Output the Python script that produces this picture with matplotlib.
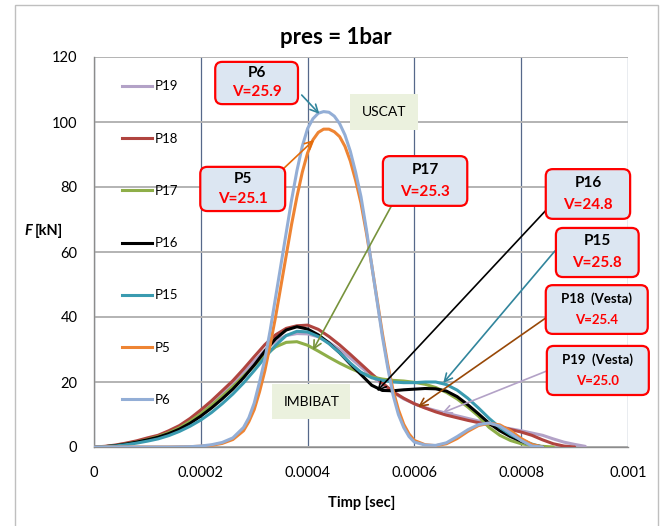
import numpy as np
import matplotlib.pyplot as plt
from matplotlib.patches import FancyBboxPatch, Rectangle
from matplotlib.transforms import IdentityTransform
from matplotlib.lines import Line2D

plt.rcParams['font.family'] = ['Lato', 'DejaVu Sans']

# time axis in microseconds (sampled every 20 us)
t_us = [0, 20, 40, 60, 80, 100, 120, 140, 160, 180, 200, 220, 240, 260, 280,
        300, 320, 340, 360, 380, 400, 420, 440, 460, 480, 500, 520, 540, 560,
        580, 600, 620, 640, 660, 680, 700, 720, 740, 760, 780, 800, 820, 840,
        860, 880, 900, 920]
# the two sharp curves (P5, P6) are read every 10 us around the peak
t_us_fine = [0, 20, 40, 60, 80, 100, 120, 140, 160, 180, 200, 220, 240, 260,
             280, 290, 300, 310, 320, 330, 340, 350, 360, 370, 380, 390, 400,
             410, 420, 430, 440, 450, 460, 470, 480, 490, 500, 510, 520, 530,
             540, 550, 560, 570, 580, 590, 600, 620, 640, 660, 680, 700, 720,
             740, 760, 780, 800, 820, 840]

# force [kN]
p19 = [0, 0.1, 0.5, 1.1, 1.7, 2.5, 3.3, 4.6, 6.1, 8.1, 10.6, 13.3, 16.3, 19.4,
       22.8, 26.4, 29.8, 32.6, 34.3, 34.9, 34.8, 33.9, 32.2, 30.0, 27.4, 24.6,
       21.8, 19.2, 16.8, 14.8, 13.3, 12.1, 11.2, 10.4, 9.6, 8.8, 8.0, 7.2, 6.2,
       5.6, 5.0, 4.3, 3.6, 2.5, 1.5, 0.8, 0.2]
p18 = [0, 0.2, 0.6, 1.2, 1.9, 2.8, 3.6, 5.0, 6.6, 8.8, 11.4, 14.2, 17.3, 20.4,
       24.0, 27.8, 31.5, 34.5, 36.5, 37.3, 37.5, 36.2, 34.0, 31.4, 28.5, 25.5,
       22.5, 19.7, 17.0, 15.0, 13.3, 12.0, 10.8, 9.8, 9.0, 8.2, 7.5, 6.9, 6.2,
       5.4, 4.6, 3.6, 2.2, 1.0, 0.3, 0]
p17 = [0, 0.1, 0.4, 0.9, 1.5, 2.3, 3.2, 4.4, 5.9, 7.9, 10.2, 12.8, 15.6, 18.6,
       21.8, 25.0, 28.2, 30.8, 32.2, 32.4, 31.3, 29.5, 27.6, 25.8, 24.2, 22.8,
       21.6, 20.9, 20.5, 20.3, 19.9, 19.3, 18.3, 16.8, 14.8, 12.3, 9.5, 6.0, 3.6,
       2.0, 1.0, 0.5, 0.2, 0]
p16 = [0, 0.1, 0.4, 0.9, 1.5, 2.2, 3.0, 4.1, 5.5, 7.3, 9.5, 12.0, 14.8, 17.8,
       21.3, 25.2, 29.5, 33.3, 36.0, 37.0, 36.3, 34.5, 32.0, 29.0, 25.5, 22.3,
       19.0, 17.4, 17.3, 17.6, 17.8, 18.0, 17.9, 17.2, 15.5, 13.0, 10.2, 7.3,
       5.0, 3.2, 1.8, 0.6, 0]
p15 = [0, 0.1, 0.3, 0.7, 1.2, 1.8, 2.5, 3.5, 4.8, 6.4, 8.3, 10.6, 13.3, 16.3,
       19.7, 23.5, 27.5, 31.3, 34.3, 35.6, 35.4, 34.0, 31.8, 29.0, 25.8, 23.0,
       21.3, 20.5, 20.0, 19.8, 19.8, 20.0, 20.0, 19.2, 17.5, 15.0, 12.0, 8.8,
       6.0, 3.8, 2.2, 0.9, 0]
p5 = [0, 0, 0, 0, 0, 0, 0, 0, 0.05, 0.1, 0.25, 0.5, 1.1, 2.3,
      5.0, 7.8, 11.5, 17, 23.5, 31.5, 40, 49.5, 59, 68.5, 77, 84.5, 90.5,
      94.5, 96.8, 97.8, 97.8, 97, 95.5, 92.5, 88, 82, 75, 66, 56, 45.5,
      35, 25.5, 17.5, 11.5, 7, 4, 2.0, 0.7, 0.4, 1.0, 2.6, 4.8, 6.6,
      7.3, 6.8, 5.0, 2.6, 0.8, 0]
p6 = [0, 0, 0, 0, 0, 0, 0, 0, 0.05, 0.1, 0.3, 0.7, 1.4, 2.8,
      6.0, 9.0, 13.5, 20, 27, 36, 46, 56, 66, 76, 85, 92.5, 98,
      101, 102.7, 103.2, 103, 101.8, 99.5, 96, 91, 84.5, 77, 67, 56, 45,
      34, 24.5, 16, 10, 6, 3.2, 1.5, 0.6, 0.5, 1.3, 3.2, 5.3, 6.9,
      7.4, 6.4, 4.3, 2.0, 0.3, 0]

names = ['P19', 'P18', 'P17', 'P16', 'P15', 'P5', 'P6']
series = [p19, p18, p17, p16, p15, p5, p6]
times = [t_us, t_us, t_us, t_us, t_us, t_us_fine, t_us_fine]
colors = ['#B3A2C7', '#B0443F', '#8EAE48', '#000000', '#3A9BB0', '#EE8433', '#93AED6']

# callouts: name, speed, box (t0, t1, F0, F1), arrow tail, arrow head, arrow colour
callouts = [
    ('P6', 'V=25.9', (0.000227, 0.000382, 105.5, 118.5), (0.000389, 108.3), (0.000422, 102.5), '#31859C'),
    ('P5', 'V=25.1', (0.000199, 0.000358, 72.6, 86.2), (0.000350, 84.9), (0.000412, 94.5), '#E46C0A'),
    ('P17', 'V=25.3', (0.000541, 0.000699, 74.2, 89.5), (0.000558, 74.5), (0.000410, 29.8), '#77933C'),
    ('P16', 'V=24.8', (0.000846, 0.001004, 70.2, 85.5), (0.000845, 72.6), (0.000530, 17.2), '#000000'),
    ('P15', 'V=25.8', (0.000865, 0.001020, 52.3, 67.4), (0.000863, 60.3), (0.000654, 19.7), '#31859C'),
    ('P18  (Vesta)', 'V=25.4', (0.000846, 0.001037, 34.8, 49.8), (0.000846, 39.7), (0.000607, 12.3), '#984807'),
    ('P19  (Vesta)', 'V=25.0', (0.000848, 0.001039, 16.0, 31.1), (0.000848, 23.4), (0.000652, 10.5), '#B3A2C7'),
]

fig = plt.figure(figsize=(6.66, 5.26), dpi=100)
ax = fig.add_axes([94 / 666, 79 / 526, 534 / 666, 390 / 526])

# outer chart border
fig.patches.append(Rectangle((15 / 666, -0.05), 643 / 666, 1.05 - 5 / 526,
                             transform=fig.transFigure, fill=False,
                             ec='#BFBFBF', lw=1.0))

for name, s, tt, c in zip(names, series, times, colors):
    t = np.array(tt[:len(s)]) * 1e-6
    ax.plot(t, s, color=c, lw=2.2, label=name, solid_capstyle='round',
            solid_joinstyle='round', zorder=3)

ax.set_xlim(0, 0.001)
ax.set_ylim(0, 120)
ax.set_xticks([0, 0.0002, 0.0004, 0.0006, 0.0008, 0.001])
ax.set_xticklabels(['0', '0.0002', '0.0004', '0.0006', '0.0008', '0.001'])
ax.set_yticks([0, 20, 40, 60, 80, 100, 120])
ax.tick_params(length=0, labelsize=10.5, colors='#000000')
ax.tick_params(axis='y', pad=12)
ax.tick_params(axis='x', pad=14)
ax.yaxis.grid(True, color='#B3B3B3', lw=1.4)
ax.xaxis.grid(True, color='#56688A', lw=0.9)
ax.set_axisbelow(True)
for sp in ['top', 'right']:
    ax.spines[sp].set_visible(False)
for sp in ['left', 'bottom']:
    ax.spines[sp].set_color('#8C8C8C')
    ax.spines[sp].set_linewidth(1.0)

fig.text(336 / 666, 1 - 37 / 526, 'pres = 1bar', ha='center', va='center',
         fontsize=16, fontweight='bold')
fig.text(362 / 666, 1 - 503 / 526, 'Timp [sec]', ha='center', va='center',
         fontsize=10.5, fontweight='bold')
fig.text(24 / 666, 1 - 231 / 526, 'F', ha='left', va='center',
         fontsize=10.5, fontweight='bold', style='italic')
fig.text(35 / 666, 1 - 231 / 526, '[kN]', ha='left', va='center',
         fontsize=10.5, fontweight='bold')

handles = [Line2D([], [], color=c, lw=2.2) for c in colors]
ax.legend(handles, names, loc='upper left', bbox_to_anchor=(0.052, 0.94),
          frameon=False, fontsize=9.5, handlelength=2.3, handletextpad=0.2,
          labelspacing=3.05, borderpad=0, borderaxespad=0)

# plain text labels
ax.text(0.000543, 103.1, 'USCAT', ha='center', va='center', fontsize=10,
        bbox=dict(boxstyle='square,pad=0.85', fc='#EBF1DE', ec='none'), zorder=4)
ax.text(0.000407, 14.0, 'IMBIBAT', ha='center', va='center', fontsize=10,
        bbox=dict(boxstyle='square,pad=0.8', fc='#EBF1DE', ec='none'), zorder=4)

for name, v, (t0, t1, f0, f1), tail, head, ac in callouts:
    ax.annotate('', xy=head, xytext=tail,
                arrowprops=dict(arrowstyle='->', color=ac, lw=1.2,
                                mutation_scale=14, shrinkA=0, shrinkB=0),
                zorder=4, annotation_clip=False)
    x0, y0 = ax.transData.transform((t0, f0))
    x1, y1 = ax.transData.transform((t1, f1))
    box = FancyBboxPatch((x0, y0), x1 - x0, y1 - y0,
                         boxstyle='round,pad=0,rounding_size=7',
                         transform=IdentityTransform(), fc='#DCE6F2',
                         ec='#FF0000', lw=1.6, zorder=5, clip_on=False)
    ax.add_artist(box)
    small = 'Vesta' in name
    fs = 9.5 if small else 11
    tc = (t0 + t1) / 2
    ax.text(tc, f1 - 0.27 * (f1 - f0), name, ha='center', va='center',
            fontsize=fs, fontweight='bold', zorder=6, clip_on=False)
    ax.text(tc, f1 - 0.72 * (f1 - f0), v, ha='center', va='center',
            fontsize=fs, fontweight='bold', color='#FF0000', zorder=6,
            clip_on=False)

fig.savefig('out.png', dpi=100)
